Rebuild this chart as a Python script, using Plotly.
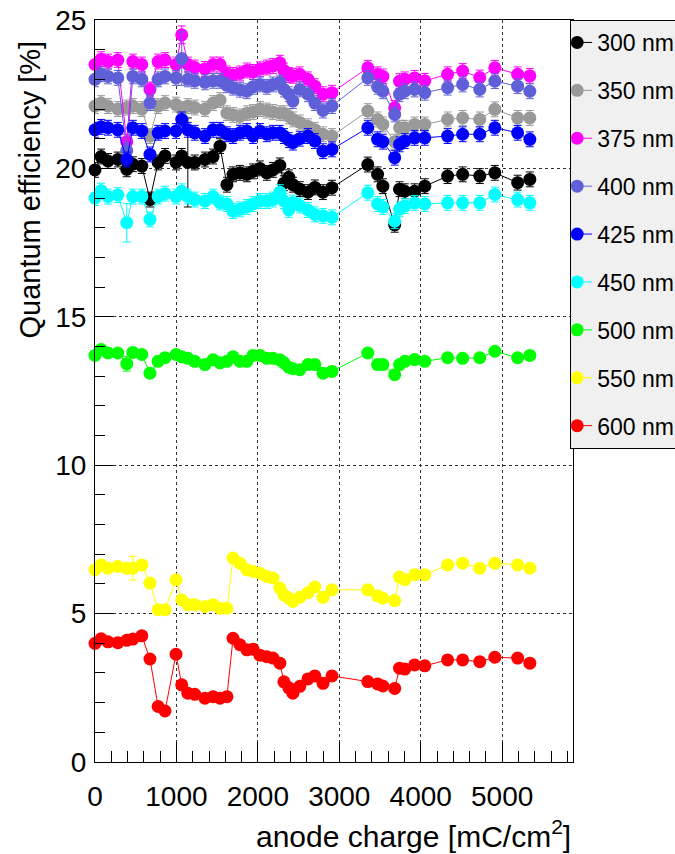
import plotly.graph_objects as go

# anode charge [mC/cm^2] at each measurement
charge = [0, 75, 160, 280, 390, 465, 575, 675, 775, 860,
          995, 1065, 1140, 1225, 1350, 1450, 1535, 1620, 1695, 1780,
          1865, 1940, 2025, 2110, 2185, 2270, 2320, 2380, 2430, 2515,
          2615, 2700, 2800, 2910, 3350, 3470, 3535, 3680, 3740, 3805,
          3925, 4050, 4330, 4515, 4725, 4910, 5190, 5340]

qe_300 = [19.95, 20.4, 20.25, 20.3, 19.97, 20.14, 20.08, 18.95, 20.2, 20.42,
          20.2, 20.42, 20.2, 20.2, 20.3, 20.4, 20.75, 19.45, 19.8, 19.85,
          19.8, 19.9, 20.0, 19.85, 19.95, 20.1, 19.5, 19.7, 19.45, 19.3,
          19.2, 19.36, 19.2, 19.35, 20.13, 19.8, 19.4, 18.1, 19.3, 19.23,
          19.23, 19.4, 19.74, 19.8, 19.74, 19.85, 19.52, 19.63]
qe_350 = [22.1, 22.2, 22.1, 22.0, 22.05, 22.1, 22.0, 21.09, 22.1, 22.2,
          22.15, 22.0, 22.1, 22.05, 22.0, 22.2, 22.3, 21.86, 21.8, 21.75,
          21.86, 21.9, 22.0, 21.95, 21.9, 21.86, 21.86, 21.75, 21.65, 21.55,
          21.42, 21.3, 21.15, 21.09, 21.93, 21.65, 21.48, 20.9, 21.37, 21.37,
          21.48, 21.48, 21.65, 21.7, 21.65, 21.99, 21.7, 21.7]
qe_375 = [23.5, 23.68, 23.6, 23.65, 20.9, 23.6, 23.5, 22.66, 23.6, 23.65,
          23.5, 24.5, 23.5, 23.4, 23.35, 23.5, 23.5, 23.2, 23.15, 23.2,
          23.3, 23.25, 23.34, 23.4, 23.45, 23.56, 23.3, 23.15, 23.12, 23.17,
          23.0, 22.77, 22.5, 22.55, 23.39, 23.17, 23.1, 22.04, 22.94, 23.0,
          23.05, 22.95, 23.17, 23.28, 23.06, 23.39, 23.17, 23.12]
qe_400 = [23.0, 23.17, 23.1, 23.05, 20.6, 23.1, 23.0, 22.2, 23.0, 23.1,
          23.05, 23.7, 23.0, 22.95, 22.9, 22.95, 22.95, 22.8, 22.72, 22.65,
          22.6, 22.75, 22.83, 22.75, 22.83, 22.89, 22.66, 22.5, 22.27, 22.66,
          22.5, 22.2, 21.95, 22.1, 23.05, 22.75, 22.6, 21.82, 22.5, 22.6,
          22.66, 22.55, 22.72, 22.83, 22.66, 22.94, 22.77, 22.6]
qe_425 = [21.3, 21.4, 21.37, 21.3, 20.3, 21.37, 21.26, 20.47, 21.2, 21.26,
          21.26, 21.65, 21.3, 21.2, 21.09, 21.3, 21.3, 21.15, 21.09, 21.2,
          21.26, 21.09, 21.26, 21.15, 21.2, 21.2, 21.09, 20.95, 20.87, 21.0,
          21.09, 20.92, 20.58, 20.64, 21.37, 20.98, 20.9, 20.36, 20.81, 20.92,
          21.03, 21.03, 21.09, 21.15, 21.15, 21.37, 21.2, 20.98]
qe_450 = [19.0, 19.25, 19.05, 19.1, 18.17, 19.05, 19.05, 18.28, 19.05, 19.15,
          19.05, 19.23, 19.05, 18.95, 18.9, 19.05, 18.85, 18.8, 18.56, 18.62,
          18.7, 18.8, 18.9, 18.9, 18.95, 19.2, 18.9, 18.6, 18.85, 18.75,
          18.6, 18.45, 18.4, 18.35, 19.18, 18.8, 18.7, 18.22, 18.62, 18.73,
          18.84, 18.8, 18.84, 18.84, 18.84, 19.12, 18.95, 18.84]
qe_500 = [13.7, 13.9, 13.78, 13.78, 13.42, 13.8, 13.73, 13.1, 13.5, 13.62,
          13.73, 13.65, 13.6, 13.5, 13.39, 13.55, 13.45, 13.5, 13.65, 13.5,
          13.5, 13.7, 13.7, 13.6, 13.6, 13.55, 13.45, 13.3, 13.25, 13.22,
          13.39, 13.39, 13.1, 13.16, 13.78, 13.39, 13.39, 13.05, 13.39, 13.5,
          13.56, 13.5, 13.62, 13.6, 13.62, 13.84, 13.62, 13.7]
qe_550 = [6.48, 6.64, 6.53, 6.59, 6.53, 6.53, 6.64, 6.03, 5.13, 5.13,
          6.14, 5.46, 5.3, 5.3, 5.24, 5.3, 5.18, 5.18, 6.87, 6.7,
          6.48, 6.42, 6.36, 6.25, 6.2, 5.86, 5.63, 5.52, 5.41, 5.55,
          5.7, 5.9, 5.55, 5.8, 5.8, 5.6, 5.52, 5.44, 6.23, 6.14,
          6.31, 6.31, 6.64, 6.7, 6.53, 6.7, 6.64, 6.53]
qe_600 = [4.0, 4.15, 4.05, 4.02, 4.1, 4.14, 4.25, 3.47, 1.87, 1.72,
          3.63, 2.6, 2.32, 2.28, 2.15, 2.2, 2.15, 2.2, 4.17, 3.95,
          3.78, 3.8, 3.6, 3.55, 3.5, 3.33, 2.7, 2.5, 2.32, 2.55,
          2.8, 2.9, 2.65, 2.9, 2.71, 2.63, 2.56, 2.48, 3.16, 3.13,
          3.27, 3.24, 3.44, 3.44, 3.38, 3.53, 3.5, 3.33]

labels = ["300 nm", "350 nm", "375 nm", "400 nm", "425 nm",
          "450 nm", "500 nm", "550 nm", "600 nm"]
colors = ["#000000", "#999999", "#ff00ff", "#5f5fd8", "#0000ff",
          "#00ffff", "#00ff00", "#ffff00", "#ff0000"]
values = [qe_300, qe_350, qe_375, qe_400, qe_425, qe_450, qe_500, qe_550, qe_600]

# typical uncertainty per wavelength, plus a few larger ones (index: error)
err_typical = [0.25, 0.25, 0.25, 0.25, 0.25, 0.25, 0.1, 0.1, 0.1]
err_special = [{12: 1.5}, {}, {11: 0.3}, {11: 0.9}, {}, {4: 0.65}, {4: 0.25}, {5: 0.4}, {}]

fig = go.Figure()
for lab, col, vals, et, es in zip(labels, colors, values, err_typical, err_special):
    errs = [es.get(i, et) for i in range(len(vals))]
    fig.add_trace(go.Scatter(
        x=charge, y=vals, mode="lines+markers", name=lab, legendgroup=lab,
        line=dict(color=col, width=1),
        marker=dict(color=col, size=13),
        error_y=dict(type="data", array=errs, color=col, thickness=1, width=4),
        cliponaxis=False,
    ))

font_family = "Liberation Sans, Arial, sans-serif"
fig.update_layout(
    width=675, height=854,
    margin=dict(l=95, r=102, t=20, b=92, autoexpand=False),
    paper_bgcolor="white", plot_bgcolor="white",
    font=dict(family=font_family, color="black", size=28),
    showlegend=True,
    legend=dict(x=0.994, y=1.0, xanchor="left", yanchor="top",
                bgcolor="#f0f0f0", bordercolor="black", borderwidth=1,
                font=dict(size=23), tracegroupgap=15, indentation=-14,
                itemwidth=30),
    xaxis=dict(range=[0, 5870], showline=True, linecolor="black", linewidth=1,
               mirror=True, ticks="inside", ticklen=20, tickcolor="black",
               dtick=1000, tick0=0, showgrid=True, gridcolor="#333333",
               griddash="dot", gridwidth=1, zeroline=False,
               tickfont=dict(size=28), ticklabelstandoff=9,
               minor=dict(dtick=200, ticks="inside", ticklen=11,
                          tickcolor="black", showgrid=False)),
    yaxis=dict(range=[0, 25], showline=True, linecolor="black", linewidth=1,
               mirror=True, ticks="inside", ticklen=18, tickcolor="black",
               dtick=5, tick0=0, showgrid=True, gridcolor="#333333",
               griddash="dot", gridwidth=1, zeroline=False,
               tickfont=dict(size=28), ticklabelstandoff=2,
               minor=dict(dtick=1, ticks="inside", ticklen=10,
                          tickcolor="black", showgrid=False)),
    annotations=[
        dict(text="anode charge [mC/cm<sup>2</sup>]", xref="paper", yref="paper",
             x=1.0, y=-0.097, xanchor="right", yanchor="middle", showarrow=False,
             font=dict(size=30)),
        dict(text="Quantum efficiency [%]", xref="paper", yref="paper",
             x=-0.136, y=0.975, xanchor="center", yanchor="top", textangle=-90,
             showarrow=False, font=dict(size=29)),
    ],
)

fig.write_html("out.html")
